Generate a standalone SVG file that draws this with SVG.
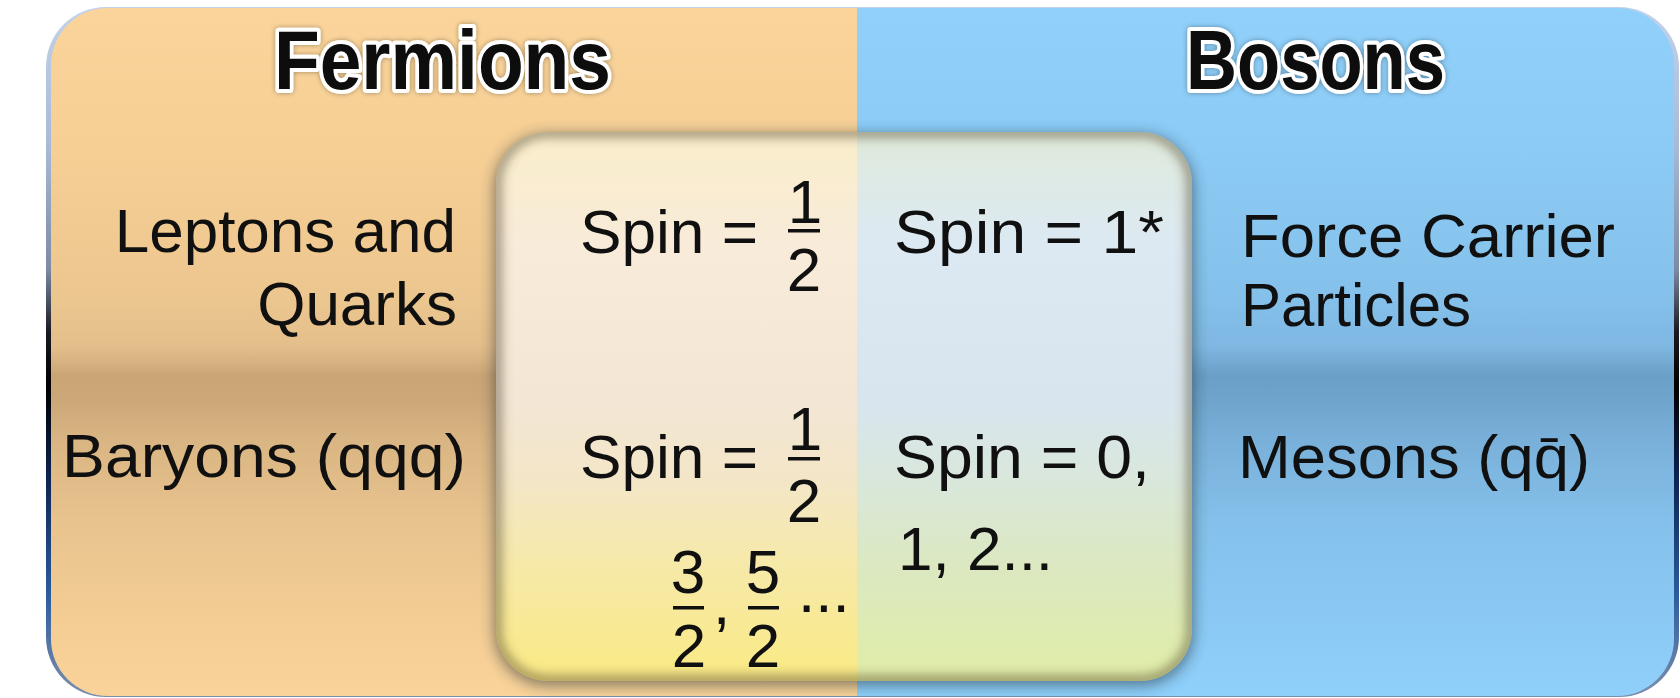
<svg xmlns="http://www.w3.org/2000/svg" width="1680" height="698" viewBox="0 0 1680 698">
  <defs>
    <style>
      .t { font-family: "Liberation Sans", Arial, sans-serif; font-size: 62px; fill: #101010; }
      .h { font-family: "Liberation Sans", Arial, sans-serif; font-weight: bold; font-size: 84px; fill: #0a0a0a; stroke: #ffffff; stroke-width: 8px; stroke-linejoin: round; paint-order: stroke; }
      .bar { fill: #101010; }
    </style>
    <linearGradient id="borderGrad" gradientUnits="userSpaceOnUse" x1="0" y1="8" x2="0" y2="697">
      <stop offset="0" stop-color="#c2d2ea"/>
      <stop offset="0.2" stop-color="#a9bad4"/>
      <stop offset="0.38" stop-color="#7c8aa2"/>
      <stop offset="0.47" stop-color="#1a1a22"/>
      <stop offset="0.55" stop-color="#000000"/>
      <stop offset="0.68" stop-color="#0d2350"/>
      <stop offset="0.85" stop-color="#2c5c9c"/>
      <stop offset="1" stop-color="#7d8fae"/>
    </linearGradient>
    <linearGradient id="orangeGrad" gradientUnits="userSpaceOnUse" x1="0" y1="8" x2="0" y2="696">
      <stop offset="0" stop-color="#fad49a"/>
      <stop offset="0.206" stop-color="#f6cf95"/>
      <stop offset="0.424" stop-color="#ecc68f"/>
      <stop offset="0.490" stop-color="#e5bf8b"/>
      <stop offset="0.515" stop-color="#d7b281"/>
      <stop offset="0.534" stop-color="#c9a576"/>
      <stop offset="0.570" stop-color="#cca879"/>
      <stop offset="0.628" stop-color="#d9b583"/>
      <stop offset="0.744" stop-color="#e8c38e"/>
      <stop offset="0.890" stop-color="#f3cd94"/>
      <stop offset="1" stop-color="#f9d399"/>
    </linearGradient>
    <linearGradient id="blueGrad" gradientUnits="userSpaceOnUse" x1="0" y1="8" x2="0" y2="696">
      <stop offset="0" stop-color="#90d0fa"/>
      <stop offset="0.206" stop-color="#8ccbf5"/>
      <stop offset="0.424" stop-color="#84c0ea"/>
      <stop offset="0.490" stop-color="#7fb8e2"/>
      <stop offset="0.515" stop-color="#74aad3"/>
      <stop offset="0.534" stop-color="#6a9fc7"/>
      <stop offset="0.570" stop-color="#6fa4cc"/>
      <stop offset="0.628" stop-color="#79b0d9"/>
      <stop offset="0.744" stop-color="#84c0ea"/>
      <stop offset="0.890" stop-color="#8bc9f4"/>
      <stop offset="1" stop-color="#8fd0fa"/>
    </linearGradient>
    <linearGradient id="boxLeftGrad" gradientUnits="userSpaceOnUse" x1="0" y1="132" x2="0" y2="681">
      <stop offset="0" stop-color="#faeecc"/>
      <stop offset="0.21" stop-color="#f8ebd9"/>
      <stop offset="0.49" stop-color="#f3e6d5"/>
      <stop offset="0.63" stop-color="#f3e6c8"/>
      <stop offset="0.78" stop-color="#f6e9aa"/>
      <stop offset="1" stop-color="#faea84"/>
    </linearGradient>
    <linearGradient id="boxRightGrad" gradientUnits="userSpaceOnUse" x1="0" y1="132" x2="0" y2="681">
      <stop offset="0" stop-color="#dfeadb"/>
      <stop offset="0.21" stop-color="#dce9f3"/>
      <stop offset="0.49" stop-color="#d8e5ee"/>
      <stop offset="0.63" stop-color="#d9e7dc"/>
      <stop offset="0.78" stop-color="#dbe8c2"/>
      <stop offset="1" stop-color="#e0eda6"/>
    </linearGradient>
    <clipPath id="outerClip">
      <rect x="51" y="8" width="1623" height="688" rx="57" ry="57"/>
    </clipPath>
    <clipPath id="boxClip">
      <rect x="496" y="132" width="696" height="549" rx="52" ry="52"/>
    </clipPath>
    <filter id="blur7" x="-10%" y="-10%" width="120%" height="120%">
      <feGaussianBlur stdDeviation="7"/>
    </filter>
    <filter id="blur5" x="-10%" y="-10%" width="120%" height="120%">
      <feGaussianBlur stdDeviation="5"/>
    </filter>
    <filter id="glow" x="-10%" y="-20%" width="120%" height="140%">
      <feGaussianBlur in="SourceAlpha" stdDeviation="2.5" result="b"/>
      <feFlood flood-color="#000" flood-opacity="0.35"/>
      <feComposite in2="b" operator="in" result="s"/>
      <feMerge><feMergeNode in="s"/><feMergeNode in="SourceGraphic"/></feMerge>
    </filter>
  </defs>

  <g id="background">
    <rect x="46" y="7" width="1633" height="690" rx="60" ry="60" fill="url(#borderGrad)"/>
    <g clip-path="url(#outerClip)">
      <rect x="51" y="8" width="806" height="688" fill="url(#orangeGrad)"/>
      <rect x="857" y="8" width="817" height="688" fill="url(#blueGrad)"/>
    </g>
  </g>

  <g id="spin-box">
    <rect x="494" y="134" width="700" height="552" rx="54" ry="54" fill="#1e2c30" opacity="0.5" filter="url(#blur7)"/>
    <g clip-path="url(#boxClip)">
      <rect x="496" y="132" width="361" height="549" fill="url(#boxLeftGrad)"/>
      <rect x="857" y="132" width="335" height="549" fill="url(#boxRightGrad)"/>
      <rect x="496" y="132" width="696" height="549" rx="52" ry="52" fill="none" stroke="#5a5036" stroke-opacity="0.45" stroke-width="14" filter="url(#blur5)"/>
    </g>
  </g>

  <g id="fermions-header" filter="url(#glow)">
    <text class="h" x="274" y="89" textLength="337" lengthAdjust="spacingAndGlyphs">Fermions</text>
  </g>
  <g id="bosons-header" filter="url(#glow)">
    <text class="h" x="1186" y="89" textLength="259" lengthAdjust="spacingAndGlyphs">Bosons</text>
  </g>

  <g id="leptons-quarks">
    <text class="t" x="456" y="252" text-anchor="end">Leptons and</text>
    <text class="t" x="457" y="325" text-anchor="end">Quarks</text>
  </g>

  <g id="force-carriers">
    <text class="t" x="1241" y="257" textLength="374" lengthAdjust="spacingAndGlyphs">Force Carrier</text>
    <text class="t" x="1241" y="326" textLength="230" lengthAdjust="spacingAndGlyphs">Particles</text>
  </g>

  <g id="baryons">
    <text class="t" x="62" y="477" textLength="404" lengthAdjust="spacingAndGlyphs">Baryons (qqq)</text>
  </g>

  <g id="mesons">
    <text class="t" x="1238" y="478" textLength="352" lengthAdjust="spacingAndGlyphs">Mesons (qq̄)</text>
  </g>

  <g id="spin-half-top">
    <text class="t" x="580" y="253" textLength="178" lengthAdjust="spacingAndGlyphs">Spin =</text>
    <text class="t" x="805" y="223" text-anchor="middle">1</text>
    <rect class="bar" x="788" y="229" width="32" height="3.5"/>
    <text class="t" x="804" y="291" text-anchor="middle">2</text>
  </g>

  <g id="spin-one">
    <text class="t" x="894" y="253" textLength="270" lengthAdjust="spacingAndGlyphs">Spin = 1*</text>
  </g>

  <g id="spin-half-bottom">
    <text class="t" x="580" y="478" textLength="178" lengthAdjust="spacingAndGlyphs">Spin =</text>
    <text class="t" x="805" y="450" text-anchor="middle">1</text>
    <rect class="bar" x="788" y="457" width="32" height="3.5"/>
    <text class="t" x="804" y="522" text-anchor="middle">2</text>
    <text class="t" x="688" y="593" text-anchor="middle">3</text>
    <rect class="bar" x="673" y="606" width="31" height="3.5"/>
    <text class="t" x="689" y="667" text-anchor="middle">2</text>
    <text class="t" x="713" y="624">,</text>
    <text class="t" x="763" y="593" text-anchor="middle">5</text>
    <rect class="bar" x="748" y="606" width="31" height="3.5"/>
    <text class="t" x="763" y="667" text-anchor="middle">2</text>
    <text class="t" x="798" y="612">...</text>
  </g>

  <g id="spin-integer">
    <text class="t" x="894" y="478" textLength="256" lengthAdjust="spacingAndGlyphs">Spin = 0,</text>
    <text class="t" x="898" y="570">1, 2...</text>
  </g>
</svg>
